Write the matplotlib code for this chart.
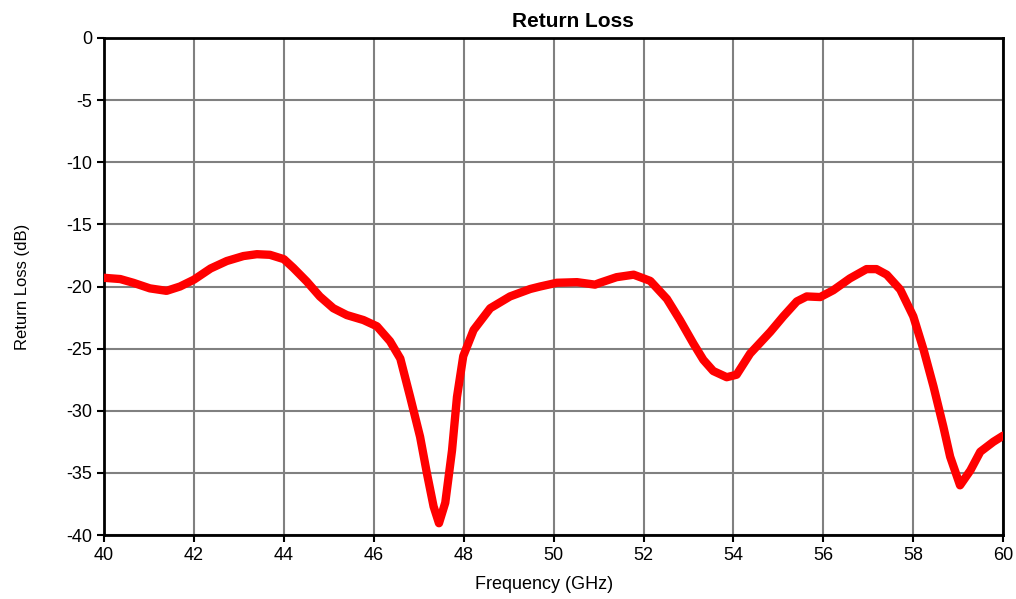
import matplotlib.pyplot as plt

plt.rcParams['font.family'] = ['Liberation Sans', 'DejaVu Sans']
plt.rcParams['axes.unicode_minus'] = False

# values
freq = [40.0, 40.36, 40.65, 41.02, 41.39, 41.69, 42.0, 42.37, 42.73, 43.1,
        43.4, 43.69, 44.0, 44.21, 44.51, 44.8, 45.1, 45.4, 45.77, 46.07,
        46.36, 46.59, 46.81, 47.03, 47.18, 47.33, 47.45, 47.59, 47.74, 47.85,
        47.99, 48.22, 48.59, 49.03, 49.48, 49.7, 50.07, 50.52, 50.92, 51.03,
        51.4, 51.78, 52.15, 52.52, 52.81, 53.11, 53.33, 53.55, 53.85, 54.07,
        54.37, 54.82, 55.11, 55.41, 55.63, 55.93, 56.22, 56.59, 56.96, 57.18,
        57.41, 57.71, 58.0, 58.23, 58.45, 58.67, 58.82, 59.04, 59.27, 59.49,
        59.78, 60.0]
loss = [-19.3, -19.4, -19.7, -20.15, -20.35, -20.0, -19.45, -18.55, -17.95, -17.55,
        -17.4, -17.45, -17.8, -18.5, -19.6, -20.8, -21.75, -22.3, -22.7, -23.2,
        -24.4, -25.8, -28.9, -32.1, -35.0, -37.7, -39.05, -37.4, -33.2, -28.9,
        -25.6, -23.5, -21.75, -20.8, -20.2, -20.0, -19.7, -19.65, -19.85, -19.7,
        -19.25, -19.05, -19.55, -21.0, -22.7, -24.6, -25.9, -26.8, -27.3, -27.1,
        -25.4, -23.65, -22.4, -21.2, -20.8, -20.85, -20.3, -19.35, -18.6, -18.6,
        -19.05, -20.25, -22.4, -25.1, -28.05, -31.3, -33.7, -36.0, -34.8, -33.3,
        -32.5, -32.0]

xticks = list(range(40, 61, 2))
yticks = list(range(-40, 1, 5))

fig = plt.figure(figsize=(10.16, 5.99), dpi=100)
ax = fig.add_axes([0.1024, 0.1068, 0.885, 0.8298])

ax.plot(freq, loss, color='#ff0000', linewidth=6, solid_joinstyle='round',
        solid_capstyle='round', zorder=3)

ax.set_xlim(40, 60)
ax.set_ylim(-40, 0)
ax.set_xticks(xticks)
ax.set_yticks(yticks)
ax.grid(True, color='#808080', linewidth=1.5)
ax.set_axisbelow(True)
for s in ax.spines.values():
    s.set_linewidth(2)
    s.set_color('black')
ax.tick_params(direction='out', length=5, width=1.5, labelsize=13)

ax.set_title('Return Loss', fontsize=15, fontweight='bold', pad=8, x=0.522)
ax.set_xlabel('Frequency (GHz)', fontsize=13, labelpad=9, x=0.489)
ax.set_ylabel('Return Loss (dB)', fontsize=12, labelpad=26)

plt.savefig('out.png', dpi=100)
